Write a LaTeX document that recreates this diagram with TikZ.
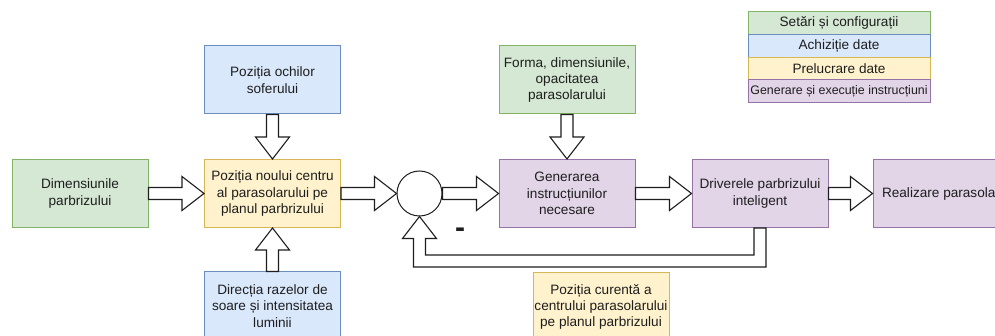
\documentclass[tikz,border=0pt]{standalone}
\usepackage{fontspec}
\setmainfont{Liberation Sans}
\usetikzlibrary{calc}
\definecolor{gfill}{HTML}{D5E8D4}\definecolor{gline}{HTML}{82B366}
\definecolor{bfill}{HTML}{DAE8FC}\definecolor{bline}{HTML}{6C8EBF}
\definecolor{yfill}{HTML}{FFF2CC}\definecolor{yline}{HTML}{D6B656}
\definecolor{pfill}{HTML}{E1D5E7}\definecolor{pline}{HTML}{9673A6}
\definecolor{ink}{HTML}{1E1E1E}
\tikzset{
  box/.style={rectangle, minimum width=136pt, minimum height=68pt, inner sep=0pt,
    line width=1pt, align=center, text=ink, font=\fontsize{13.6}{16.3}\selectfont},
  gbox/.style={box, draw=gline, fill=gfill},
  bbox/.style={box, draw=bline, fill=bfill},
  ybox/.style={box, draw=yline, fill=yfill},
  pbox/.style={box, draw=pline, fill=pfill},
  leg/.style={rectangle, minimum width=182pt, minimum height=22.7pt, inner sep=0pt,
    line width=1pt, text=ink, font=\fontsize{13.6}{16.3}\selectfont},
  barrow/.style={draw=ink, fill=white, line width=1.1pt, line join=miter},
}
\newcommand\arrR[2]{\draw[barrow] let \p1=(#1.east), \p2=(#2.west) in
  (\x1,\y1+6pt) -- (\x2-22pt,\y1+6pt) -- (\x2-22pt,\y1+17pt) -- (\x2,\y1) --
  (\x2-22pt,\y1-17pt) -- (\x2-22pt,\y1-6pt) -- (\x1,\y1-6pt) -- cycle;}
\newcommand\arrD[2]{\draw[barrow] let \p1=(#1.south), \p2=(#2.north) in
  (\x1-6pt,\y1) -- (\x1-6pt,\y2+22pt) -- (\x1-17pt,\y2+22pt) -- (\x1,\y2) --
  (\x1+17pt,\y2+22pt) -- (\x1+6pt,\y2+22pt) -- (\x1+6pt,\y1) -- cycle;}
\newcommand\arrU[2]{\draw[barrow] let \p1=(#1.north), \p2=(#2.south) in
  (\x1-6pt,\y1) -- (\x1-6pt,\y2-22pt) -- (\x1-17pt,\y2-22pt) -- (\x1,\y2) --
  (\x1+17pt,\y2-22pt) -- (\x1+6pt,\y2-22pt) -- (\x1+6pt,\y1) -- cycle;}
\begin{document}
\begin{tikzpicture}[x=1pt,y=-1pt]
\clip (0,0) rectangle (995,336);
\fill[white] (0,0) rectangle (995,336);

\node[gbox] (dim) at (80,193.5) {Dimensiunile\\parbrizului};
\node[ybox] (poz) at (272.5,193.5) {Poziția noului centru\\al parasolarului pe\\planul parbrizului};
\node[bbox] (och) at (272.5,80) {Poziția ochilor\\soferului};
\node[bbox] (dir) at (272.5,306) {Direcția razelor de\\soare și intensitatea\\luminii};
\node[circle, draw=ink, fill=white, line width=1pt, minimum size=45pt, inner sep=0pt] (sum) at (419.5,193.5) {};
\node[gbox] (forma) at (567,80) {Forma, dimensiunile,\\opacitatea\\parasolarului};
\node[pbox] (gen) at (567,193.5) {Generarea\\instrucțiunilor\\necesare};
\node[pbox] (drv) at (760,193.5) {Driverele parbrizului\\inteligent};
\node[pbox] (real) at (941,193.5) {Realizare parasolar};
\node[ybox] (cur) at (601,307) {Poziția curentă a\\centrului parasolarului\\pe planul parbrizului};
\node[text=ink, font=\fontsize{30}{30}\selectfont\bfseries, inner sep=0pt, anchor=base] (minus) at (460,237.5) {-};

\node[leg, draw=gline, fill=gfill] (l1) at (839,23) {Setări și configurații};
\node[leg, draw=bline, fill=bfill] (l2) at (839,45.7) {Achiziție date};
\node[leg, draw=yline, fill=yfill] (l3) at (839,68.4) {Prelucrare date};
\node[leg, draw=pline, fill=pfill, font=\fontsize{12.4}{14}\selectfont] (l4) at (839,91.1) {Generare și execuție instrucțiuni};

\arrR{dim}{poz}
\arrR{poz}{sum}
\arrR{sum}{gen}
\arrR{gen}{drv}
\arrR{drv}{real}
\arrD{och}{poz}
\arrD{forma}{gen}
\arrU{dir}{poz}

\coordinate (fb) at (419.5,261);
\draw[barrow] let \p1=(drv.south), \p2=(sum.south), \p3=(fb) in
  (\x1-6pt,\y1) -- (\x1-6pt,\y3+6pt) -- (\x2+6pt,\y3+6pt) -- (\x2+6pt,\y2-22pt) --
  (\x2+17pt,\y2-22pt) -- (\x2,\y2) -- (\x2-17pt,\y2-22pt) -- (\x2-6pt,\y2-22pt) --
  (\x2-6pt,\y3-6pt) -- (\x1+6pt,\y3-6pt) -- (\x1+6pt,\y1) -- cycle;
\end{tikzpicture}
\end{document}
